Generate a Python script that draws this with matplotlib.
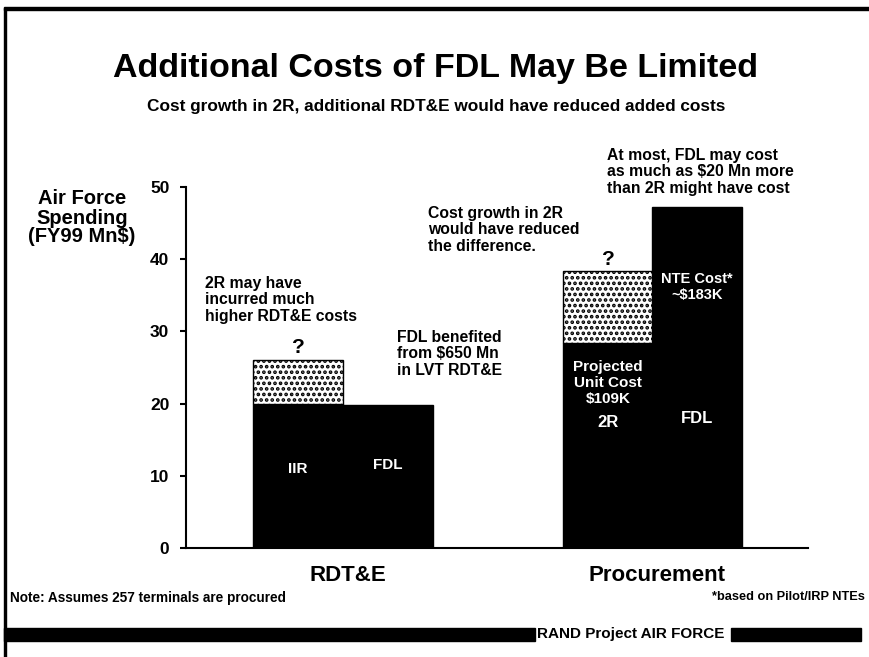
import matplotlib
matplotlib.use('Agg')
import matplotlib.pyplot as plt
from matplotlib.patches import Rectangle

# data (FY99 $Mn)
groups = ['RDT&E', 'Procurement']
base_2r = [19.9, 28.4]
growth_2r = [6.2, 9.9]
fdl = [19.8, 47.2]
pos_2r = [1.244, 4.69]
pos_fdl = [2.244, 5.68]
yticks = [0, 10, 20, 30, 40, 50]

plt.rcParams['font.family'] = ['Liberation Sans', 'DejaVu Sans']
plt.rcParams['hatch.linewidth'] = 1.8

fig = plt.figure(figsize=(8.7, 6.57), dpi=100)
ax = fig.add_axes([186/870, 1-548/657, 622/870, 361/657])

ax.bar(pos_2r, base_2r, width=1.0, color='black', edgecolor='black')
ax.bar(pos_2r, growth_2r, width=1.0, bottom=base_2r, color='white',
       edgecolor='black', hatch='...', linewidth=1)
ax.bar(pos_fdl, fdl, width=1.0, color='black', edgecolor='black')

ax.set_xlim(0, 6.91)
ax.set_ylim(0, 50)
ax.set_yticks(yticks)
ax.set_xticks([])
ax.spines['top'].set_visible(False)
ax.spines['right'].set_visible(False)
ax.spines['left'].set_linewidth(1.5)
ax.spines['bottom'].set_linewidth(1.5)
ax.tick_params(axis='y', length=4, width=1.5, labelsize=12.5, pad=8)
for t in ax.get_yticklabels():
    t.set_fontweight('bold')

# category labels
for p2, pf, g in zip(pos_2r, pos_fdl, groups):
    ax.text((p2 + pf) / 2 + 0.05, -2.4, g, ha='center', va='top', fontsize=16,
            fontweight='bold')

# labels inside bars
ax.text(pos_2r[0], 11, 'IIR', color='white', ha='center', va='center', fontsize=11, fontweight='bold')
ax.text(pos_fdl[0], 11.5, 'FDL', color='white', ha='center', va='center', fontsize=11, fontweight='bold')
ax.text(pos_2r[1], 22.85, 'Projected\nUnit Cost\n$109K', color='white', ha='center', va='center',
        fontsize=11, fontweight='bold', linespacing=1.2)
ax.text(pos_2r[1], 17.45, '2R', color='white', ha='center', va='center', fontsize=12, fontweight='bold')
ax.text(pos_fdl[1], 36.2, 'NTE Cost*\n~$183K', color='white', ha='center', va='center',
        fontsize=10.5, fontweight='bold', linespacing=1.2)
ax.text(pos_fdl[1], 17.9, 'FDL', color='white', ha='center', va='center', fontsize=12, fontweight='bold')

# question marks on top of the growth segments
for p, b, g in zip(pos_2r, base_2r, growth_2r):
    ax.text(p, b + g + 0.3, '?', ha='center', va='bottom', fontsize=15, fontweight='bold')

# slide texts
fig.text(436/870, 1-68/657, 'Additional Costs of FDL May Be Limited', ha='center', va='center',
         fontsize=24.5, fontweight='bold')
fig.text(436/870, 1-106/657, 'Cost growth in 2R, additional RDT&E would have reduced added costs',
         ha='center', va='center', fontsize=12.4, fontweight='bold')
fig.text(82/870, 1-218/657, 'Air Force\nSpending\n(FY99 Mn$)', ha='center', va='center',
         fontsize=14.5, fontweight='bold', linespacing=1.0)
fig.text(205/870, 1-300/657, '2R may have\nincurred much\nhigher RDT&E costs', ha='left', va='center',
         fontsize=11.3, fontweight='bold', linespacing=1.12)
fig.text(397/870, 1-354/657, 'FDL benefited\nfrom $650 Mn\nin LVT RDT&E', ha='left', va='center',
         fontsize=11.3, fontweight='bold', linespacing=1.12)
fig.text(428/870, 1-230/657, 'Cost growth in 2R\nwould have reduced\nthe difference.', ha='left', va='center',
         fontsize=11.3, fontweight='bold', linespacing=1.12)
fig.text(607/870, 1-172/657, 'At most, FDL may cost\nas much as $20 Mn more\nthan 2R might have cost',
         ha='left', va='center', fontsize=11.3, fontweight='bold', linespacing=1.12)
fig.text(10/870, 1-598/657, 'Note: Assumes 257 terminals are procured', ha='left', va='center',
         fontsize=9.8, fontweight='bold')
fig.text(865/870, 1-597/657, '*based on Pilot/IRP NTEs', ha='right', va='center',
         fontsize=9.2, fontweight='bold')
fig.text(537/870, 1-634/657, 'RAND Project AIR FORCE', ha='left', va='center',
         fontsize=11, fontweight='bold')

# slide frame and footer bars
fig.add_artist(Rectangle((4/870, 0), 2.5/870, 1-8/657, transform=fig.transFigure, color='black'))
fig.add_artist(Rectangle((4/870, 1-10/657), 866/870, 3/657, transform=fig.transFigure, color='black'))
fig.add_artist(Rectangle((4/870, 1-641/657), 531/870, 13/657, transform=fig.transFigure, color='black'))
fig.add_artist(Rectangle((731/870, 1-641/657), 130/870, 13/657, transform=fig.transFigure, color='black'))

fig.savefig('out.png', dpi=100)
